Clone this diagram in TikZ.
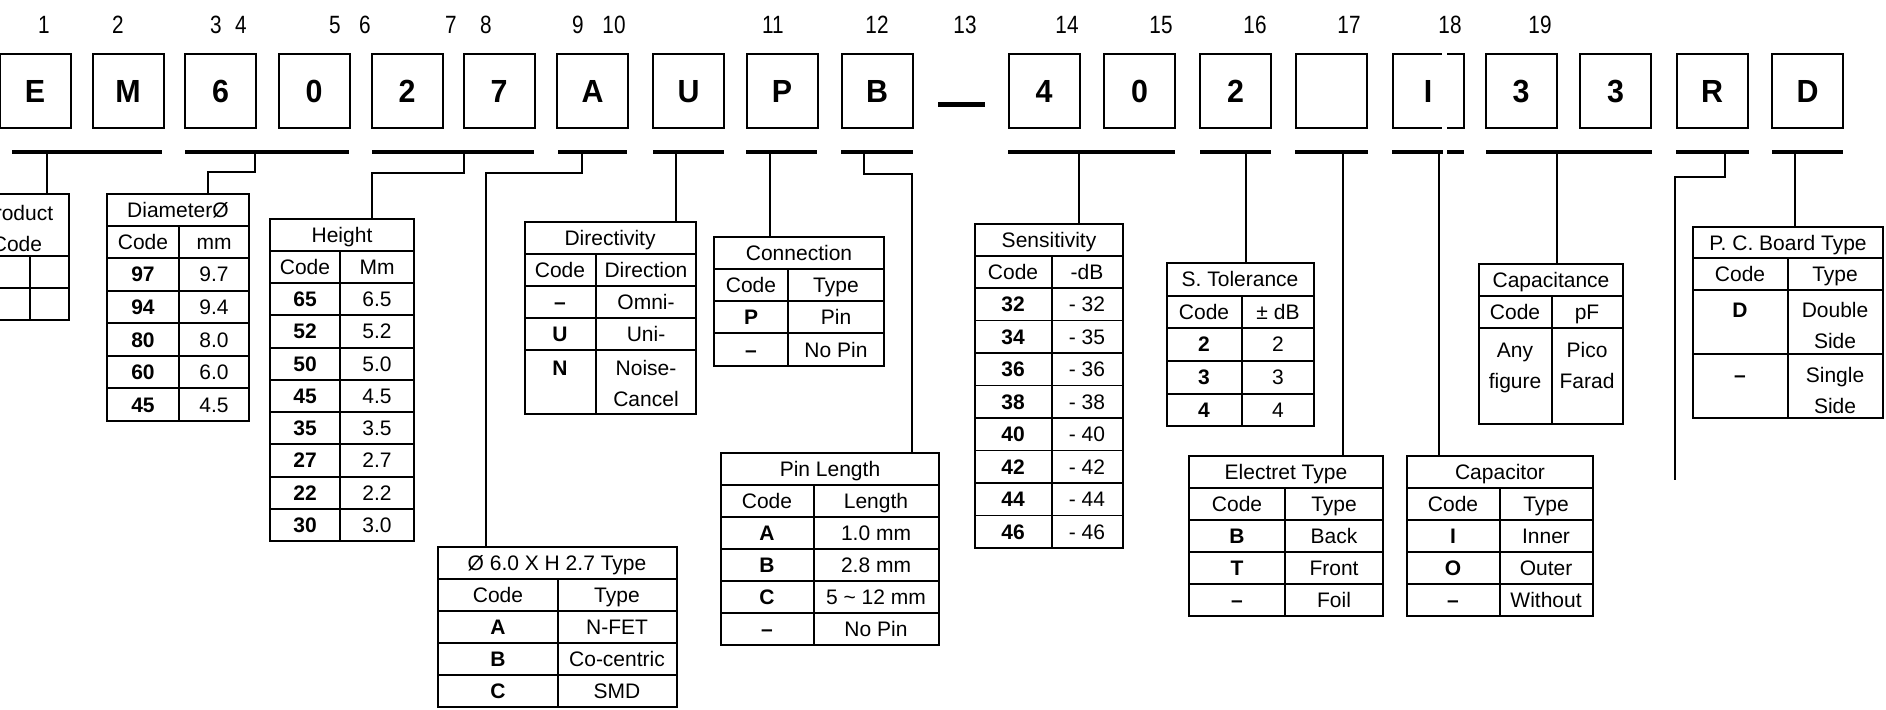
\documentclass[tikz,border=0pt]{standalone}
\usepackage{fontspec}
\setmainfont{Liberation Sans}
\newfontfamily\boxfont[FakeStretch=0.95]{Liberation Sans}
\newfontfamily\numfont[FakeStretch=0.83]{Liberation Sans}
\begin{document}
\begin{tikzpicture}[x=1pt, y=-1pt,
    every node/.style={inner sep=0pt, align=center, font=\fontsize{21}{31}\selectfont},
    cell/.style={text height=15pt, text depth=0pt},
    code/.style={cell, font=\bfseries\fontsize{21}{31}\selectfont},
    digit/.style={draw, line width=2pt, minimum width=71pt, minimum height=73pt,
      text height=23pt, text depth=0pt, font=\boxfont\bfseries\fontsize{32}{32}\selectfont},
    num/.style={text height=18pt, text depth=0pt, font=\numfont\fontsize{25}{25}\selectfont},
    bar/.style={line width=3.5pt},
    tab/.style={line width=1.8pt},
    wire/.style={line width=1.6pt}]
  \useasboundingbox (0,0) rectangle (1886,709);
  \clip (0,0) rectangle (1886,709);

  % position numbers
  \foreach \x/\n in {44/1,118/2,216/3,241/4,335/5,365/6,451/7,486/8,578/9,614/10,
      773/11,877/12,965/13,1067/14,1161/15,1255/16,1349/17,1450/18,1540/19}
    \node[num] (n\n) at (\x,25) {\n};

  % code boxes
  \foreach \x/\t [count=\i] in {35/E,128/M,220.5/6,314/0,407/2,499/7,592.5/A,688.5/U,
      782/P,877/B,1044/4,1139.5/0,1235.5/2,1331.5/{},1428/I,1521/3,1615.5/3,1712/R,1807.5/D}
    \node[digit] (d\i) at (\x,91) {\t};
  \node[fill, minimum width=47pt, minimum height=5pt] (sep) at (961.5,104) {};

  % bars
  \foreach \a/\b in {12/162,185/349,372/534,558/627,653/724,746/817,841/913,
      1008/1175,1200/1271,1295/1368,1392/1464,1486/1652,1676/1749,1772/1843}
    \draw[bar] (\a,152) -- (\b,152);
  \fill[white] (1442,53) rectangle (1447,57);
  \fill[white] (1442,125) rectangle (1447,129);
  \fill[white] (1443,149) rectangle (1447,155);
  \foreach \n/\x in {f1/47,f2/255,f3/464,f4/582,f5/676,f6/770,f7/864,f8/1079,
      f9/1246,f10/1343,f11/1439,f12/1557,f13/1725,f14/1795}
    \coordinate (\n) at (\x,152);

  % product code
  \draw[tab] (-27,194) rectangle (69,320);
  \draw[tab] (-27,256) -- (69,256);
  \draw[tab] (-27,288) -- (69,288);
  \draw[tab] (30,256) -- (30,320);
  \node[anchor=north] (pc) at (17,205.5) {Product\\Code};
  \coordinate (pc-in) at (47,194);

  % diameter
  \draw[tab] (107,194) rectangle (249,421);
  \foreach \y in {226,258,291,323,356,388} \draw[tab] (107,\y) -- (249,\y);
  \draw[tab] (179,226) -- (179,421);
  \node[cell] (dia) at (178,210) {DiameterØ};
  \node[cell] (dia-h1) at (143,242) {Code};
  \node[cell] (dia-h2) at (214,242) {mm};
  \foreach \c/\v [count=\i] in {97/9.7,94/9.4,80/8.0,60/6.0,45/4.5} {
    \node[code] (dia-c\i) at (143,{258+32.6*(\i-0.5)}) {\c};
    \node[cell] (dia-v\i) at (214,{258+32.6*(\i-0.5)}) {\v};
  }
  \coordinate (dia-in) at (208,194);

  % height
  \draw[tab] (270,219) rectangle (414,541);
  \foreach \y in {251,283,315,348,380,412,444,477,509} \draw[tab] (270,\y) -- (414,\y);
  \draw[tab] (340,251) -- (340,541);
  \node[cell] (hgt) at (342,235) {Height};
  \node[cell] (hgt-h1) at (305,267) {Code};
  \node[cell] (hgt-h2) at (377,267) {Mm};
  \foreach \c/\v [count=\i] in {65/6.5,52/5.2,50/5.0,45/4.5,35/3.5,27/2.7,22/2.2,30/3.0} {
    \node[code] (hgt-c\i) at (305,{283+32.25*(\i-0.5)}) {\c};
    \node[cell] (hgt-v\i) at (377,{283+32.25*(\i-0.5)}) {\v};
  }
  \coordinate (hgt-in) at (372,219);

  % 6.0 x 2.7 type
  \draw[tab] (438,547) rectangle (677,707);
  \foreach \y in {579,611,643,675} \draw[tab] (438,\y) -- (677,\y);
  \draw[tab] (558,579) -- (558,707);
  \node[cell] (fet) at (557,563) {Ø 6.0 X H 2.7 Type};
  \node[cell] (fet-h1) at (498,595) {Code};
  \node[cell] (fet-h2) at (617,595) {Type};
  \foreach \c/\v [count=\i] in {A/N-FET,B/Co-centric,C/SMD} {
    \node[code] (fet-c\i) at (498,{611+32*(\i-0.5)}) {\c};
    \node[cell] (fet-v\i) at (617,{611+32*(\i-0.5)}) {\v};
  }
  \coordinate (fet-in) at (486,547);

  % directivity
  \draw[tab] (525,222) rectangle (696,414);
  \foreach \y in {254,286,318,350} \draw[tab] (525,\y) -- (696,\y);
  \draw[tab] (596,254) -- (596,414);
  \node[cell] (dir) at (610,238) {Directivity};
  \node[cell] (dir-h1) at (560,270) {Code};
  \node[cell] (dir-h2) at (646,270) {Direction};
  \node[code] (dir-c1) at (560,302) {--};
  \node[cell] (dir-v1) at (646,302) {Omni-};
  \node[code] (dir-c2) at (560,334) {U};
  \node[cell] (dir-v2) at (646,334) {Uni-};
  \node[code] (dir-c3) at (560,368) {N};
  \node[anchor=north] (dir-v3) at (646,360.5) {Noise-\\Cancel};
  \coordinate (dir-in) at (676,222);

  % connection
  \draw[tab] (714,237) rectangle (884,366);
  \foreach \y in {269,301,333} \draw[tab] (714,\y) -- (884,\y);
  \draw[tab] (788,269) -- (788,366);
  \node[cell] (con) at (799,253) {Connection};
  \node[cell] (con-h1) at (751,285) {Code};
  \node[cell] (con-h2) at (836,285) {Type};
  \foreach \c/\v [count=\i] in {P/Pin,--/No Pin} {
    \node[code] (con-c\i) at (751,{301+32.5*(\i-0.5)}) {\c};
    \node[cell] (con-v\i) at (836,{301+32.5*(\i-0.5)}) {\v};
  }
  \coordinate (con-in) at (770,237);

  % pin length
  \draw[tab] (721,453) rectangle (939,645);
  \foreach \y in {485,517,549,581,613} \draw[tab] (721,\y) -- (939,\y);
  \draw[tab] (814,485) -- (814,645);
  \node[cell] (pin) at (830,469) {Pin Length};
  \node[cell] (pin-h1) at (767,501) {Code};
  \node[cell] (pin-h2) at (876,501) {Length};
  \foreach \c/\v [count=\i] in {A/1.0 mm,B/2.8 mm,C/5 \textasciitilde{} 12 mm,--/No Pin} {
    \node[code] (pin-c\i) at (767,{517+32*(\i-0.5)}) {\c};
    \node[cell] (pin-v\i) at (876,{517+32*(\i-0.5)}) {\v};
  }
  \coordinate (pin-in) at (912,453);

  % sensitivity
  \draw[tab] (975,224) rectangle (1123,548);
  \foreach \y in {256,288,320.5,353,385.5,418,450.5,483,515.5} \draw[tab] (975,\y) -- (1123,\y);
  \draw[tab] (1052,256) -- (1052,548);
  \node[cell] (sen) at (1049,240) {Sensitivity};
  \node[cell] (sen-h1) at (1013,272) {Code};
  \node[cell] (sen-h2) at (1087,272) {-dB};
  \foreach \c/\v [count=\i] in {32/- 32,34/- 35,36/- 36,38/- 38,40/- 40,42/- 42,44/- 44,46/- 46} {
    \node[code] (sen-c\i) at (1013,{288+32.5*(\i-0.5)}) {\c};
    \node[cell] (sen-v\i) at (1087,{288+32.5*(\i-0.5)}) {\v};
  }
  \coordinate (sen-in) at (1079,224);

  % s. tolerance
  \draw[tab] (1167,263) rectangle (1314,426);
  \foreach \y in {296,328,361,394} \draw[tab] (1167,\y) -- (1314,\y);
  \draw[tab] (1242,296) -- (1242,426);
  \node[cell] (tol) at (1240,279) {S. Tolerance};
  \node[cell] (tol-h1) at (1204,312) {Code};
  \node[cell] (tol-h2) at (1278,312) {± dB};
  \foreach \c [count=\i] in {2,3,4} {
    \node[code] (tol-c\i) at (1204,{328+32.7*(\i-0.5)}) {\c};
    \node[cell] (tol-v\i) at (1278,{328+32.7*(\i-0.5)}) {\c};
  }
  \coordinate (tol-in) at (1246,263);

  % electret type
  \draw[tab] (1189,456) rectangle (1383,616);
  \foreach \y in {488,520,552,584} \draw[tab] (1189,\y) -- (1383,\y);
  \draw[tab] (1285,488) -- (1285,616);
  \node[cell] (ele) at (1286,472) {Electret Type};
  \node[cell] (ele-h1) at (1237,504) {Code};
  \node[cell] (ele-h2) at (1334,504) {Type};
  \foreach \c/\v [count=\i] in {B/Back,T/Front,--/Foil} {
    \node[code] (ele-c\i) at (1237,{520+32*(\i-0.5)}) {\c};
    \node[cell] (ele-v\i) at (1334,{520+32*(\i-0.5)}) {\v};
  }
  \coordinate (ele-in) at (1343,456);

  % capacitor
  \draw[tab] (1407,456) rectangle (1593,616);
  \foreach \y in {488,520,552,584} \draw[tab] (1407,\y) -- (1593,\y);
  \draw[tab] (1500,488) -- (1500,616);
  \node[cell] (cap) at (1500,472) {Capacitor};
  \node[cell] (cap-h1) at (1453,504) {Code};
  \node[cell] (cap-h2) at (1546,504) {Type};
  \foreach \c/\v [count=\i] in {I/Inner,O/Outer,--/Without} {
    \node[code] (cap-c\i) at (1453,{520+32*(\i-0.5)}) {\c};
    \node[cell] (cap-v\i) at (1546,{520+32*(\i-0.5)}) {\v};
  }
  \coordinate (cap-in) at (1439,456);

  % capacitance
  \draw[tab] (1479,264) rectangle (1623,424);
  \foreach \y in {296,328} \draw[tab] (1479,\y) -- (1623,\y);
  \draw[tab] (1552,296) -- (1552,424);
  \node[cell] (pf) at (1551,280) {Capacitance};
  \node[cell] (pf-h1) at (1515,312) {Code};
  \node[cell] (pf-h2) at (1587,312) {pF};
  \node[anchor=north] (pf-c1) at (1515,342.5) {Any\\figure};
  \node[anchor=north] (pf-v1) at (1587,342.5) {Pico\\Farad};
  \coordinate (pf-in) at (1557,264);

  % p. c. board type
  \draw[tab] (1693,227) rectangle (1883,418);
  \foreach \y in {258,290,354} \draw[tab] (1693,\y) -- (1883,\y);
  \draw[tab] (1788,258) -- (1788,418);
  \node[cell] (pcb) at (1788,243) {P. C. Board Type};
  \node[cell] (pcb-h1) at (1740,274) {Code};
  \node[cell] (pcb-h2) at (1835,274) {Type};
  \node[code] (pcb-c1) at (1740,310) {D};
  \node[anchor=north] (pcb-v1) at (1835,302.5) {Double\\Side};
  \node[code] (pcb-c2) at (1740,375) {--};
  \node[anchor=north] (pcb-v2) at (1835,367.5) {Single\\Side};
  \coordinate (pcb-in) at (1795,227);

  \coordinate (r-end) at (1675,480);

  % connectors
  \draw[wire] (f1) -- (pc-in);
  \draw[wire] (f2) -- ++(0,20) -| (dia-in);
  \draw[wire] (f3) -- ++(0,21) -| (hgt-in);
  \draw[wire] (f4) -- ++(0,21) -| (fet-in);
  \draw[wire] (f5) -- (dir-in);
  \draw[wire] (f6) -- (con-in);
  \draw[wire] (f7) -- ++(0,22) -| (pin-in);
  \draw[wire] (f8) -- (sen-in);
  \draw[wire] (f9) -- (tol-in);
  \draw[wire] (f10) -- (ele-in);
  \draw[wire] (f11) -- (cap-in);
  \draw[wire] (f12) -- (pf-in);
  \draw[wire] (f13) -- ++(0,25) -| (r-end);
  \draw[wire] (f14) -- (pcb-in);
\end{tikzpicture}
\end{document}
